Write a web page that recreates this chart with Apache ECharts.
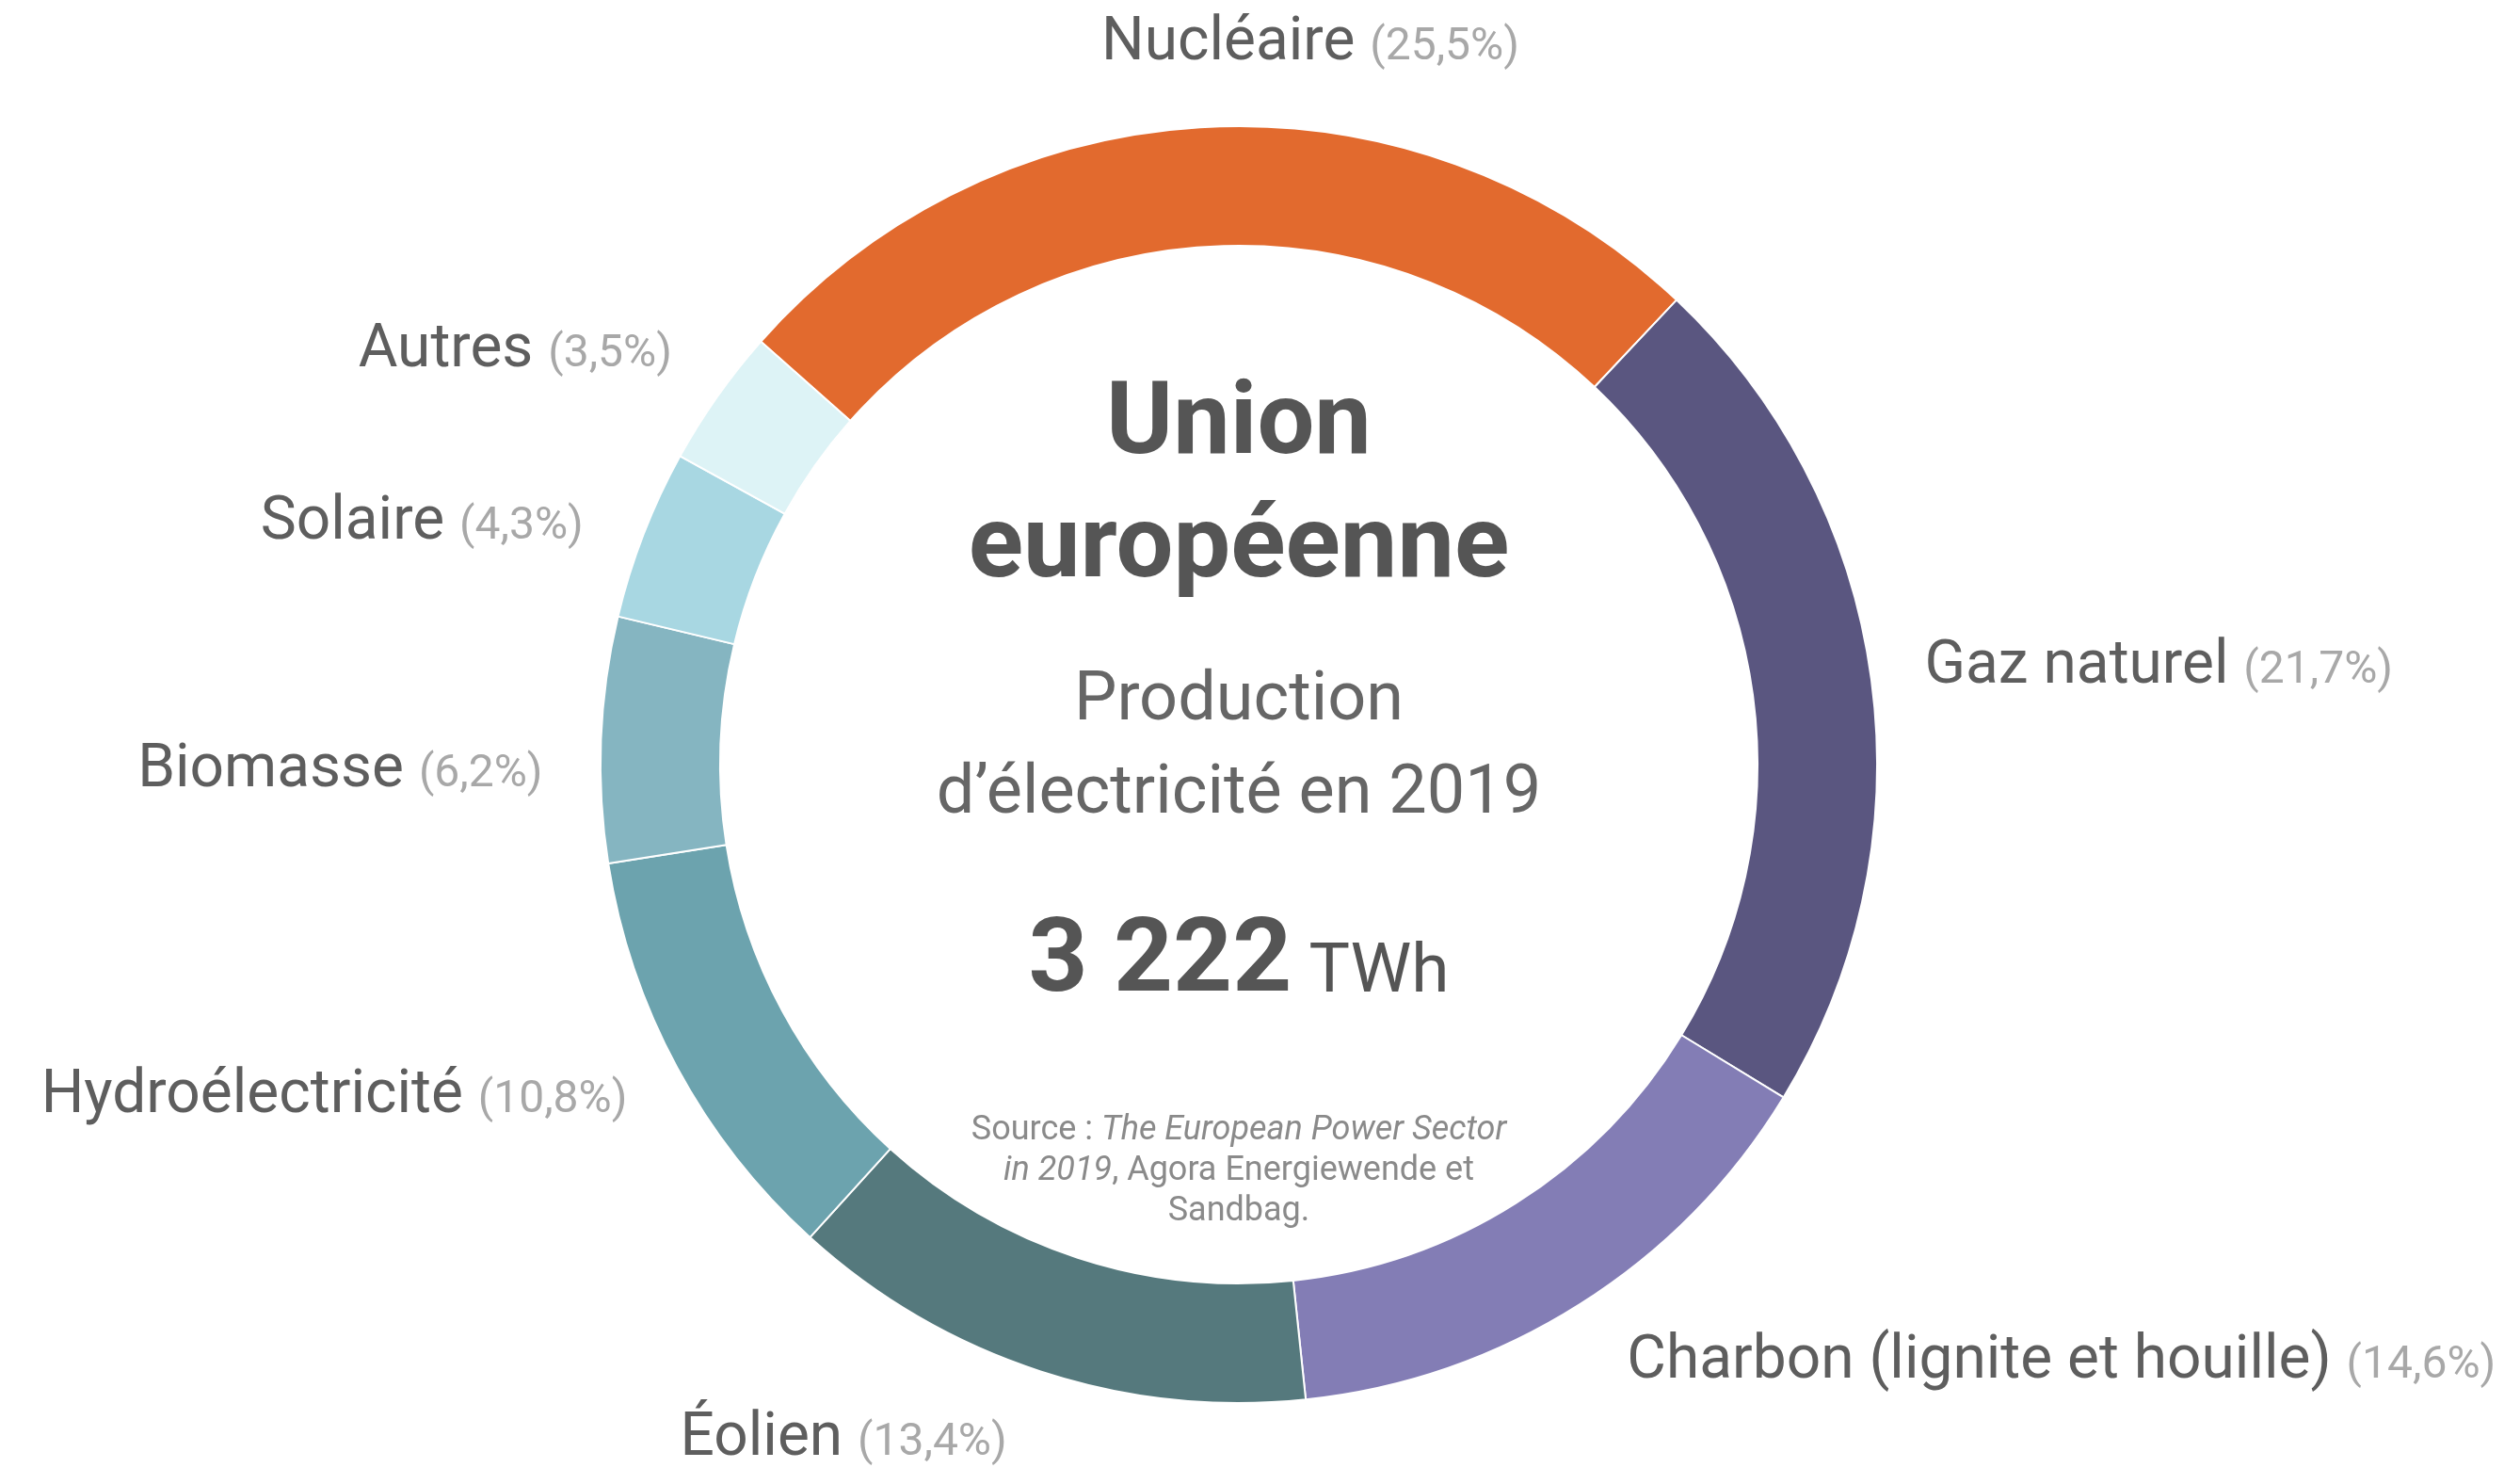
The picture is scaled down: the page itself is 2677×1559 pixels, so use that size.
<!DOCTYPE html>
<html>
<head>
<meta charset="utf-8">
<script src="https://cdn.jsdelivr.net/npm/echarts@6/dist/echarts.min.js"></script>
<style>
  html, body { margin: 0; padding: 0; background: #fff; }
  #chart { width: 2677px; height: 1559px; }
</style>
</head>
<body>
<div id="chart"></div>
<script>
// parts de la production d'électricité UE 2019 (%)
const categories = ["Nucléaire", "Gaz naturel", "Charbon (lignite et houille)", "Éolien",
  "Hydroélectricité", "Biomasse", "Solaire", "Autres"];
const shares = [25.5, 21.7, 14.6, 13.4, 10.8, 6.2, 4.3, 3.5];
const colors = ["#e26a2e", "#5a5680", "#837db5", "#55797d", "#6ca3ae", "#85b5c1", "#a8d7e2", "#ddf3f6"];
const totalLabel = "3 222";

// petits décalages des étiquettes (px)
const labelNudge = [[0, 0], [-8, -9], [13, 7], [-12, 12], [5, -1], [3, 32], [-3, 6], [6, -18]];

const cx = 1316, cy = 812;
const font = "Roboto";

function pct(v) {
  return "(" + v.toFixed(1).replace(".", ",") + "%)";
}

const chart = echarts.init(document.getElementById("chart"));

chart.setOption({
  backgroundColor: "#fff",
  animation: false,
  series: [{
    type: "pie",
    center: [cx, cy],
    radius: [551, 678],
    startAngle: 138.5,
    clockwise: true,
    silent: true,
    itemStyle: { borderColor: "#fff", borderWidth: 2 },
    label: {
      show: true,
      position: "outside",
      formatter: function (p) {
        return "{n|" + p.name + "\u00a0}{p|" + pct(p.value) + "}";
      },
      rich: {
        n: { fontFamily: font, fontSize: 64, color: "#5e5e5e", verticalAlign: "bottom", lineHeight: 72 },
        p: { fontFamily: font, fontSize: 48, color: "#a8a8a8", verticalAlign: "bottom", lineHeight: 72, padding: [0, 0, 4, 0] }
      }
    },
    labelLine: { show: false, length: 60, length2: 0 },
    labelLayout: function (p) {
      if (p.dataIndex === 0) {
        return { x: cx + 76, y: 43, align: "center", verticalAlign: "middle" };
      }
      const d = labelNudge[p.dataIndex];
      return { dx: d[0], dy: d[1] };
    },
    data: categories.map(function (c, i) {
      return { name: c, value: shares[i], itemStyle: { color: colors[i] } };
    })
  }],
  graphic: [
    {
      type: "text", x: cx, y: 454,
      style: { text: "Union", fontFamily: font, fontWeight: "bold", fontSize: 108, fill: "#555", align: "center", verticalAlign: "middle" }
    },
    {
      type: "text", x: cx, y: 585,
      style: { text: "européenne", fontFamily: font, fontWeight: "bold", fontSize: 108, fill: "#555", align: "center", verticalAlign: "middle" }
    },
    {
      type: "text", x: cx, y: 746,
      style: { text: "Production", fontFamily: font, fontSize: 72, fill: "#666", align: "center", verticalAlign: "middle" }
    },
    {
      type: "text", x: cx, y: 845,
      style: { text: "d’électricité en 2019", fontFamily: font, fontSize: 72, fill: "#666", align: "center", verticalAlign: "middle" }
    },
    {
      type: "text", x: cx, y: 1019,
      style: {
        text: "{a|" + totalLabel + "}{b|\u00a0TWh}",
        align: "center", verticalAlign: "middle",
        rich: {
          a: { fontFamily: font, fontWeight: "bold", fontSize: 110, fill: "#555", lineHeight: 120, verticalAlign: "bottom" },
          b: { fontFamily: font, fontSize: 73, fill: "#555", lineHeight: 120, verticalAlign: "bottom", padding: [0, 0, 8, 0] }
        }
      }
    },
    {
      type: "text", x: cx, y: 1244,
      style: {
        text: "{r|Source : }{i|The European Power Sector}\n{i|in 2019}{r|, Agora Energiewende et}\n{r|Sandbag.}",
        align: "center", verticalAlign: "middle",
        rich: {
          r: { fontFamily: font, fontSize: 36, fill: "#8a8a8a", lineHeight: 43 },
          i: { fontFamily: font, fontSize: 36, fontStyle: "italic", fill: "#8a8a8a", lineHeight: 43 }
        }
      }
    }
  ]
});
</script>
</body>
</html>
